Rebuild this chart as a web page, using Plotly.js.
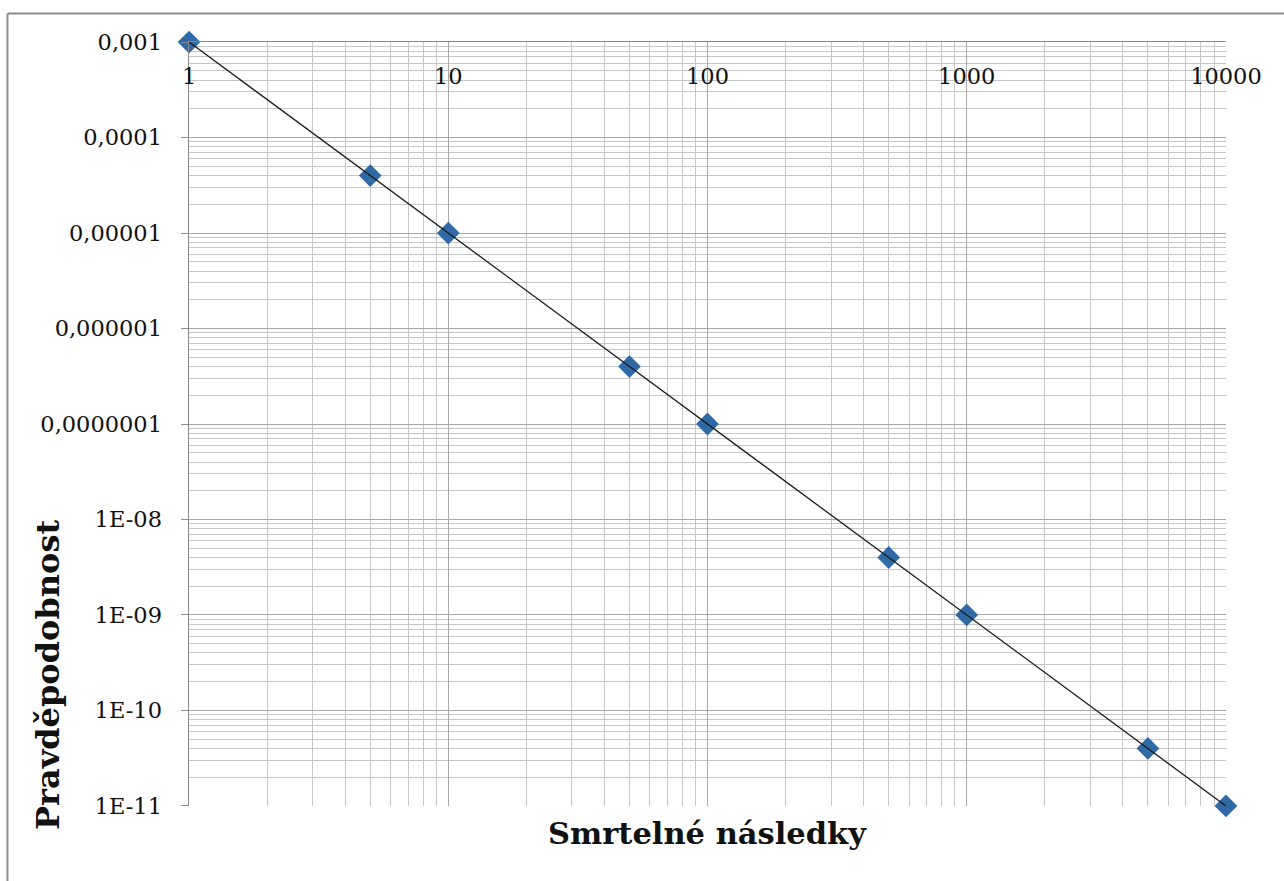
<!DOCTYPE html>
<html>
<head>
<meta charset="utf-8">
<script src="https://cdn.plot.ly/plotly-3.0.1.min.js"></script>
<style>
html,body{margin:0;padding:0;background:#fff;}
#chart{width:1284px;height:881px;}
</style>
</head>
<body>
<div id="chart"></div>
<script>
// Data
var consequences = [1, 5, 10, 50, 100, 500, 1000, 5000, 10000];
var probability = [1e-3, 4e-5, 1e-5, 4e-7, 1e-7, 4e-9, 1e-9, 4e-11, 1e-11];

var xTickVals = [1, 10, 100, 1000, 10000];
var xTickText = ["1", "10", "100", "1000", "10000"];
var yTickVals = [1e-3, 1e-4, 1e-5, 1e-6, 1e-7, 1e-8, 1e-9, 1e-10, 1e-11];
var yTickText = ["0,001", "0,0001", "0,00001", "0,000001", "0,0000001", "1E-08", "1E-09", "1E-10", "1E-11"];

var xTitle = "Smrtelné následky";
var yTitle = "Pravděpodobnost";

var W = 1284, H = 881;
var L = 189, R = 58, T = 42, B = 75;
var pw = W - L - R, ph = H - T - B;
function px(x) { return (x - L) / pw; }
function py(y) { return (H - B - y) / ph; }

var traces = [
  {
    x: consequences, y: probability, type: 'scatter', mode: 'markers',
    marker: {symbol: 'diamond', size: 17.5, color: '#2f6aa6', line: {width: 0}},
    cliponaxis: false, hoverinfo: 'x+y'
  },
  {
    x: consequences, y: probability, type: 'scatter', mode: 'lines',
    line: {color: '#1a1a1a', width: 1.3},
    cliponaxis: false, hoverinfo: 'skip'
  }
];

var serif = '"DejaVu Serif", "Liberation Serif", serif';
var eps = 0.0002;

var layout = {
  width: W, height: H,
  margin: {l: L, r: R, t: T, b: B, pad: 0},
  paper_bgcolor: '#ffffff', plot_bgcolor: '#ffffff',
  showlegend: false,
  font: {family: serif, color: '#111111', size: 22},
  xaxis: {
    type: 'log', range: [0 - eps, 4 + eps], side: 'top',
    tickvals: xTickVals, ticktext: xTickText,
    ticklabelposition: 'inside', ticklabeloverflow: 'allow', ticks: '', ticklabelstandoff: 28,
    tickfont: {family: serif, size: 22.5, color: '#111111'},
    showgrid: true, gridcolor: '#a8a8a8', gridwidth: 1,
    minor: {dtick: 'D1', showgrid: true, gridcolor: '#c6c6c6', gridwidth: 1, ticks: ''},
    showline: true, linecolor: '#8a8a8a', linewidth: 1.5, mirror: false,
    zeroline: false,
    title: {text: ''}
  },
  yaxis: {
    type: 'log', range: [-11 - eps, -3 + eps],
    tickvals: yTickVals, ticktext: yTickText,
    ticks: 'outside', ticklen: 7, tickcolor: '#8a8a8a', tickwidth: 1,
    ticklabelstandoff: 14,
    tickfont: {family: serif, size: 22.5, color: '#111111'},
    showgrid: true, gridcolor: '#a8a8a8', gridwidth: 1,
    minor: {dtick: 'D1', showgrid: true, gridcolor: '#c6c6c6', gridwidth: 1, ticks: ''},
    showline: true, linecolor: '#8a8a8a', linewidth: 1.5,
    zeroline: false,
    title: {text: ''}
  },
  annotations: [
    {text: '<b>' + xTitle + '</b>', xref: 'paper', yref: 'paper',
     x: 0.5, y: py(833), xanchor: 'center', yanchor: 'middle', showarrow: false,
     font: {family: serif, size: 30.5, color: '#111111'}},
    {text: '<b>' + yTitle + '</b>', xref: 'paper', yref: 'paper',
     x: px(48), y: py(675), xanchor: 'center', yanchor: 'middle', showarrow: false,
     textangle: -90,
     font: {family: serif, size: 32, color: '#111111'}}
  ],
  shapes: [
    {type: 'line', xref: 'paper', yref: 'paper', x0: px(7.5), x1: px(1300), y0: py(13.5), y1: py(13.5),
     line: {color: '#8c8c8c', width: 2}},
    {type: 'line', xref: 'paper', yref: 'paper', x0: px(7.5), x1: px(7.5), y0: py(13.5), y1: py(900),
     line: {color: '#8c8c8c', width: 2}}
  ]
};

Plotly.newPlot('chart', traces, layout, {displayModeBar: false, staticPlot: true});
</script>
</body>
</html>
